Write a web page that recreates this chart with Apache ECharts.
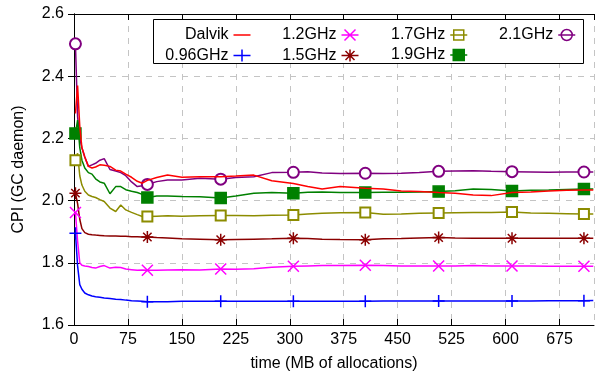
<!DOCTYPE html>
<html><head><meta charset="utf-8">
<script src="https://cdn.jsdelivr.net/npm/echarts@6/dist/echarts.min.js"></script>
<style>html,body{margin:0;padding:0;background:#fff}#c{width:608px;height:381px}</style>
</head><body><div id="c"></div>
<script>
// x positions (MB of allocations)
const xs = [2, 5, 8, 11, 15, 20, 25, 30, 36, 42, 50, 58, 65, 72, 80, 88, 95, 102, 115, 130, 150, 175, 204, 225, 250, 275, 305, 325, 345, 370, 405, 430, 455, 480, 507, 530, 555, 580, 609, 635, 660, 685, 709, 722];
const markerX = [2, 102, 204, 305, 405, 507, 609, 709];

const dalvik = [2.28, 2.37, 2.24, 2.17, 2.14, 2.11, 2.105, 2.108, 2.115, 2.114, 2.11, 2.098, 2.095, 2.085, 2.075, 2.062, 2.056, 2.065, 2.074, 2.082, 2.075, 2.077, 2.077, 2.079, 2.082, 2.064, 2.055, 2.045, 2.037, 2.045, 2.040, 2.037, 2.031, 2.029, 2.026, 2.024, 2.018, 2.016, 2.026, 2.028, 2.031, 2.033, 2.034, 2.034];
const ghz096 = [1.895, 1.79, 1.73, 1.715, 1.703, 1.697, 1.693, 1.691, 1.689, 1.687, 1.685, 1.683, 1.682, 1.680, 1.678, 1.677, 1.676, 1.675, 1.675, 1.675, 1.676, 1.676, 1.676, 1.676, 1.676, 1.676, 1.676, 1.676, 1.676, 1.676, 1.676, 1.677, 1.677, 1.677, 1.677, 1.677, 1.677, 1.677, 1.677, 1.677, 1.678, 1.678, 1.678, 1.679];
const ghz12 = [1.962, 1.87, 1.80, 1.792, 1.790, 1.788, 1.785, 1.783, 1.788, 1.791, 1.783, 1.786, 1.785, 1.780, 1.778, 1.776, 1.777, 1.776, 1.776, 1.777, 1.778, 1.777, 1.780, 1.779, 1.781, 1.786, 1.789, 1.790, 1.791, 1.791, 1.792, 1.791, 1.790, 1.790, 1.790, 1.790, 1.791, 1.790, 1.790, 1.790, 1.789, 1.789, 1.789, 1.789];
const ghz15 = [2.024, 1.99, 1.94, 1.91, 1.897, 1.892, 1.890, 1.889, 1.888, 1.887, 1.886, 1.886, 1.885, 1.885, 1.884, 1.884, 1.883, 1.883, 1.881, 1.880, 1.877, 1.876, 1.874, 1.875, 1.876, 1.877, 1.879, 1.878, 1.876, 1.875, 1.874, 1.877, 1.878, 1.880, 1.881, 1.880, 1.879, 1.879, 1.879, 1.879, 1.879, 1.879, 1.879, 1.879];
const ghz17 = [2.130, 2.152, 2.08, 2.05, 2.03, 2.018, 2.013, 2.010, 2.003, 1.997, 1.976, 1.965, 1.986, 1.970, 1.962, 1.955, 1.949, 1.949, 1.950, 1.951, 1.950, 1.951, 1.952, 1.952, 1.951, 1.953, 1.954, 1.957, 1.959, 1.961, 1.962, 1.956, 1.957, 1.959, 1.960, 1.961, 1.962, 1.962, 1.963, 1.960, 1.959, 1.958, 1.957, 1.957];
const ghz19 = [2.216, 2.259, 2.17, 2.13, 2.105, 2.09, 2.085, 2.07, 2.06, 2.056, 2.022, 2.045, 2.045, 2.035, 2.030, 2.026, 2.020, 2.010, 2.015, 2.015, 2.013, 2.012, 2.008, 2.015, 2.024, 2.026, 2.024, 2.027, 2.028, 2.026, 2.026, 2.027, 2.027, 2.028, 2.029, 2.032, 2.037, 2.036, 2.031, 2.033, 2.034, 2.036, 2.037, 2.037];
const ghz21 = [2.504, 2.27, 2.20, 2.17, 2.14, 2.11, 2.115, 2.12, 2.13, 2.135, 2.100, 2.095, 2.090, 2.080, 2.060, 2.045, 2.048, 2.052, 2.061, 2.066, 2.066, 2.072, 2.069, 2.074, 2.077, 2.090, 2.091, 2.093, 2.089, 2.087, 2.088, 2.087, 2.088, 2.090, 2.094, 2.095, 2.096, 2.094, 2.093, 2.092, 2.091, 2.092, 2.092, 2.092];

const names = ['Dalvik', '0.96GHz', '1.2GHz', '1.5GHz', '1.7GHz', '1.9GHz', '2.1GHz'];
const values = [dalvik, ghz096, ghz12, ghz15, ghz17, ghz19, ghz21];
const colors = ['#ff0000', '#0000ff', '#ff00ff', '#8b0000', '#8c8c00', '#008000', '#800080'];
const symbols = ['none',
  'path://M0,6L12,6M6,0L6,12',
  'path://M0,0L12,12M12,0L0,12',
  'path://M0,6L12,6M6,0L6,12M1.8,1.8L10.2,10.2M10.2,1.8L1.8,10.2',
  'emptyRect', 'rect', 'emptyCircle'];
const sizes = [0, 12, 11, 12, 10, 11, 11];
// legend samples: short line with the marker on it
const legendIcons = [
  'path://M0,6.25L17,6.25L17,7.75L0,7.75Z',
  'path://M0,6L17,6M8.5,0L8.5,12',
  'path://M0,6L17,6M3,0.5L14,11.5M14,0.5L3,11.5',
  'path://M0,6L17,6M8.5,0L8.5,12M4,1.5L13,10.5M13,1.5L4,10.5',
  'path://M0,6L17,6M3.5,1H13.5V11H3.5Z',
  'path://M0,6L17,6M3,0.5H14V11.5H3Z',
  'path://M0,6L17,6M14,6A5.5,5.5 0 1 1 3,6A5.5,5.5 0 1 1 14,6Z'
];
const legendFill = ['#ff0000', 'none', 'none', 'none', '#ffffff', '#008000', '#ffffff'];
const legendCols = [['Dalvik', '0.96GHz'], ['1.2GHz', '1.5GHz'], ['1.7GHz', '1.9GHz'], ['2.1GHz']];
const legendRight = [355, 247, 140, 32];

const FONT = 'Liberation Sans, Arial, Helvetica, sans-serif';

const series = names.map((n, i) => ({
  name: n,
  type: 'line',
  data: xs.map((x, j) => ({ value: [x, values[i][j]], symbol: markerX.includes(x) ? symbols[i] : 'none' })),
  symbol: symbols[i],
  symbolSize: sizes[i],
  showSymbol: true,
  showAllSymbol: true,
  lineStyle: { color: colors[i], width: 1.5 },
  itemStyle: { color: colors[i], borderColor: colors[i], borderWidth: 1.5 },
  emphasis: { disabled: true },
  xAxisIndex: 0, yAxisIndex: 0,
  z: 2 + (names.length - i) * 0.01
}));

const legendItem = name => {
  const i = names.indexOf(name);
  return {
    name: name,
    icon: legendIcons[i],
    itemStyle: { color: legendFill[i], borderColor: colors[i], borderWidth: i === 0 ? 0 : 1.5 }
  };
};

const chart = echarts.init(document.getElementById('c'), null, { renderer: 'canvas' });
chart.setOption({
  animation: false,
  backgroundColor: '#fff',
  grid: { left: 74, right: 14, top: 14, bottom: 56, containLabel: false },
  xAxis: [{
    type: 'value', min: 0, max: 723, interval: 75,
    name: 'time (MB of allocations)', nameLocation: 'middle', nameGap: 31,
    nameTextStyle: { fontFamily: FONT, fontSize: 16, color: '#000' },
    axisLine: { show: true, lineStyle: { color: '#000', width: 1 } },
    axisTick: { show: true, inside: true, length: 6, lineStyle: { color: '#000' } },
    axisLabel: { fontFamily: FONT, fontSize: 16, color: '#000', margin: 7, showMaxLabel: false,
      formatter: v => (v % 75 === 0 ? String(v) : '') },
    splitLine: { show: true, lineStyle: { color: '#c4c4c4', type: [6, 6], width: 1 } }
  }, {
    type: 'value', position: 'top', min: 0, max: 723, interval: 75,
    axisLine: { show: true, lineStyle: { color: '#000', width: 1 } },
    axisTick: { show: true, inside: true, length: 6, lineStyle: { color: '#000' } },
    axisLabel: { show: false }, splitLine: { show: false }
  }],
  yAxis: [{
    type: 'value', min: 1.6, max: 2.6, interval: 0.2,
    name: 'CPI (GC daemon)', nameLocation: 'middle', nameGap: 47,
    nameTextStyle: { fontFamily: FONT, fontSize: 16, color: '#000' },
    axisLine: { show: true, lineStyle: { color: '#000', width: 1 } },
    axisTick: { show: true, inside: true, length: 6, lineStyle: { color: '#000' } },
    axisLabel: { fontFamily: FONT, fontSize: 16, color: '#000', margin: 10, formatter: v => v.toFixed(1) },
    splitLine: { show: true, lineStyle: { color: '#c4c4c4', type: [6, 6], width: 1 } }
  }, {
    type: 'value', position: 'right', min: 1.6, max: 2.6, interval: 0.2,
    axisLine: { show: true, lineStyle: { color: '#000', width: 1 } },
    axisTick: { show: true, inside: true, length: 6, lineStyle: { color: '#000' } },
    axisLabel: { show: false }, splitLine: { show: false }
  }],
  graphic: [{
    type: 'rect', z: 3,
    shape: { x: 153.5, y: 19.5, width: 430, height: 44 },
    style: { fill: '#fff', stroke: '#000', lineWidth: 1 }
  }],
  legend: legendCols.map((d, i) => ({
    data: d.map(legendItem), orient: 'vertical', align: 'right', right: legendRight[i], top: 27,
    itemWidth: 17, itemHeight: 14, itemGap: 4, padding: 0, selectedMode: false, z: 5,
    symbolKeepAspect: true,
    textStyle: { fontFamily: FONT, fontSize: 16, color: '#000' }
  })),
  series: series
});
</script>
</body></html>
